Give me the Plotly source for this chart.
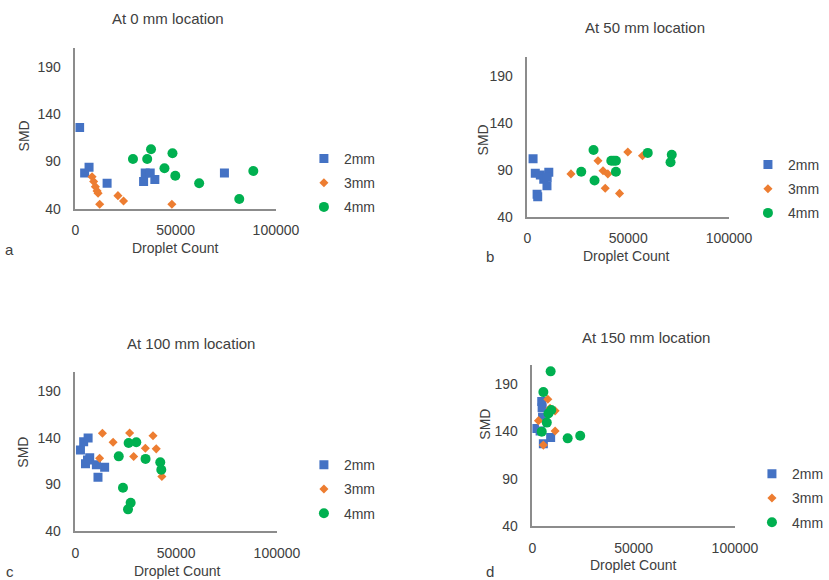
import plotly.graph_objects as go

W, H = 829, 580

series_names = ["2mm", "3mm", "4mm"]
panel_titles = ["At 0 mm location", "At 50 mm location", "At 100 mm location", "At 150 mm location"]
panel_letters = ["a", "b", "c", "d"]
x_ticks = [0, 50000, 100000]
y_ticks = [40, 90, 140, 190]

# Panel a (0 mm)
a_2mm_x = [2100, 4600, 6800, 15800, 34000, 34800, 37300, 39600, 74300]
a_2mm_y = [126, 78, 84, 67, 69, 78, 78, 71, 78]
a_3mm_x = [8300, 9100, 9950, 10800, 11300, 12100, 21200, 24000, 48100]
a_3mm_y = [74, 69, 63.5, 59, 56.5, 45, 54, 48.4, 45]
a_4mm_x = [28700, 35800, 37700, 44400, 48400, 49800, 61700, 81700, 88700]
a_4mm_y = [92.7, 92.7, 103, 83, 98.7, 75, 67, 50.5, 80]

# Panel b (50 mm)
b_2mm_x = [2800, 3900, 4800, 5100, 6400, 8100, 9700, 10600, 9800]
b_2mm_y = [101.8, 86.4, 64, 61.4, 84.6, 80, 73, 87.5, 82]
b_3mm_x = [21600, 35000, 37500, 38600, 39900, 45700, 49800, 57100]
b_3mm_y = [85.7, 99.6, 89, 70.4, 85.7, 65, 109, 105]
b_4mm_x = [26700, 32800, 33300, 41600, 42800, 43900, 43900, 59700, 71600, 71000]
b_4mm_y = [88, 111, 78.6, 99.6, 99.6, 99.6, 88, 108, 106, 98]

# Panel c (100 mm)
c_2mm_x = [2500, 4100, 6300, 5000, 7100, 6000, 10400, 11200, 14500]
c_2mm_y = [126.9, 135.7, 139.6, 112, 118.4, 116, 111, 97.8, 108.4]
c_3mm_x = [12000, 13400, 18700, 26900, 28900, 34700, 38500, 40100, 42900]
c_3mm_y = [118, 144.6, 135, 145, 119.8, 128.7, 142, 128, 98.5]
c_4mm_x = [21500, 23600, 26100, 27400, 26400, 30200, 34800, 42100, 42600]
c_4mm_y = [120, 86.5, 63.4, 70.5, 134.3, 135, 117.3, 113.8, 105.6]

# Panel d (150 mm)
d_2mm_x = [1000, 3800, 4600, 4800, 5400, 9000, 5000]
d_2mm_y = [143, 140.5, 171.6, 165, 127, 133.7, 155]
d_3mm_x = [3000, 5400, 7600, 8700, 11200, 11200, 6500]
d_3mm_y = [151.4, 125.6, 174, 164.5, 161.7, 140.5, 150]
d_4mm_x = [9000, 5400, 7100, 4600, 7900, 9300, 17400, 23600]
d_4mm_y = [203.4, 181.5, 149.3, 139.8, 159, 162.7, 132.7, 135.5]

panels = [
    [(a_2mm_x, a_2mm_y), (a_3mm_x, a_3mm_y), (a_4mm_x, a_4mm_y)],
    [(b_2mm_x, b_2mm_y), (b_3mm_x, b_3mm_y), (b_4mm_x, b_4mm_y)],
    [(c_2mm_x, c_2mm_y), (c_3mm_x, c_3mm_y), (c_4mm_x, c_4mm_y)],
    [(d_2mm_x, d_2mm_y), (d_3mm_x, d_3mm_y), (d_4mm_x, d_4mm_y)],
]

colors = ["#4472C4", "#ED7D31", "#00B050"]
symbols = ["square", "diamond", "circle"]
sizes = [9, 7, 10]

# layout geometry in pixels: (left, right, top, bottom) of plot area
boxes = [(74, 275, 48, 209), (527, 729, 57, 217), (74, 276, 372, 531), (532, 735, 365, 526)]
title_pos = [(167, 19), (645, 28), (190, 343), (646, 337)]
xtitle_pos = [(174, 248), (626, 256), (176, 571), (633, 565)]
ytitle_pos = [(22, 136), (482, 140), (22, 452), (485, 424)]
letter_pos = [(8, 250), (489, 257), (8, 571), (489, 571)]
legend_pos = [(303, 183), (748, 189), (303, 489), (752, 498)]

SX = 1.034
SY = 1.015

def px(x):
    return (74 + (x - 74) * SX) / W

def py(y):
    return 1 - (19 + (y - 19) * SY) / H

FONT = "Liberation Sans, Arial, sans-serif"
TXT = "#404040"

fig = go.Figure()
layout = dict(
    width=W, height=H, margin=dict(l=0, r=0, t=0, b=0),
    paper_bgcolor="white", plot_bgcolor="white",
    font=dict(family=FONT, size=14, color=TXT),
    annotations=[],
)

for i, panel in enumerate(panels):
    n = "" if i == 0 else str(i + 1)
    leg = "legend" + n
    for j, (xs, ys) in enumerate(panel):
        fig.add_trace(go.Scatter(
            x=xs, y=ys, mode="markers", name=series_names[j],
            xaxis="x" + n, yaxis="y" + n, legend=leg,
            legendgroup=f"p{i}s{j}",
            marker=dict(color=colors[j], symbol=symbols[j], size=sizes[j], line=dict(width=0)),
        ))
    l, r, t, b = boxes[i]
    layout["xaxis" + n] = dict(
        domain=[px(l), px(r)], anchor="y" + n, range=[0, 100000],
        tickvals=x_ticks, ticktext=[str(v) for v in x_ticks],
        showgrid=False, zeroline=False, showline=True, linecolor="#8c8c8c", linewidth=1.5,
        ticks="", ticklabelstandoff=8, tickfont=dict(size=14, color=TXT),
        fixedrange=True,
    )
    layout["yaxis" + n] = dict(
        domain=[py(b), py(t)], anchor="x" + n, range=[40, 210],
        tickvals=y_ticks, ticktext=[str(v) for v in y_ticks],
        showgrid=False, zeroline=False, showline=True, linecolor="#8c8c8c", linewidth=1.5,
        ticks="", ticklabelstandoff=10, tickfont=dict(size=14, color=TXT),
        fixedrange=True,
    )
    lx, ly = legend_pos[i]
    layout[leg] = dict(
        x=px(lx), y=py(ly), xanchor="left", yanchor="middle",
        font=dict(size=14, color=TXT), tracegroupgap=3,
        bgcolor="rgba(0,0,0,0)", itemclick=False, itemdoubleclick=False,
    )
    tx, ty = title_pos[i]
    layout["annotations"].append(dict(
        text=panel_titles[i], x=px(tx), y=py(ty), xref="paper", yref="paper",
        xanchor="center", yanchor="middle", showarrow=False,
        font=dict(size=15, color=TXT)))
    ax_, ay_ = xtitle_pos[i]
    layout["annotations"].append(dict(
        text="Droplet Count", x=px(ax_), y=py(ay_), xref="paper", yref="paper",
        xanchor="center", yanchor="middle", showarrow=False,
        font=dict(size=14, color=TXT)))
    sx, sy = ytitle_pos[i]
    layout["annotations"].append(dict(
        text="SMD", x=px(sx), y=py(sy), xref="paper", yref="paper",
        xanchor="center", yanchor="middle", showarrow=False, textangle=-90,
        font=dict(size=14, color=TXT)))
    gx, gy = letter_pos[i]
    layout["annotations"].append(dict(
        text=panel_letters[i], x=px(gx), y=py(gy), xref="paper", yref="paper",
        xanchor="center", yanchor="middle", showarrow=False,
        font=dict(size=15, color=TXT)))

fig.update_layout(**layout)
fig.write_html(
    "out.html",
    config={"responsive": False, "displayModeBar": False},
    post_script="document.body.style.margin='0';document.body.style.overflow='hidden';",
)
